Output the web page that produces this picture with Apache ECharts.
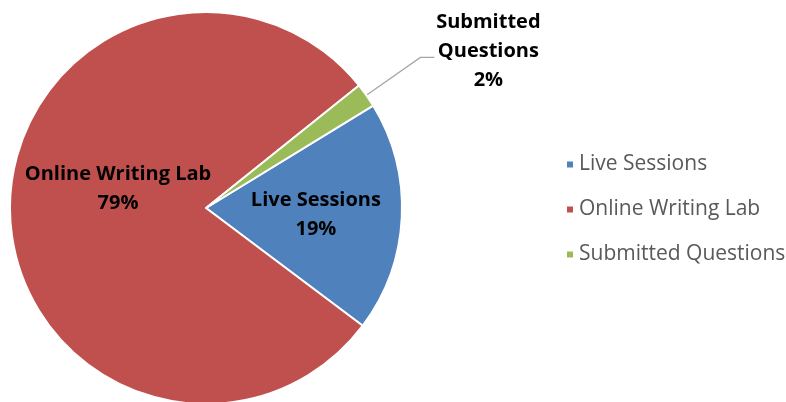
<!DOCTYPE html>
<html><head><meta charset="utf-8">
<script src="https://cdn.jsdelivr.net/npm/echarts@6/dist/echarts.min.js"></script>
<style>html,body{margin:0;padding:0;background:#fff}#c{width:786px;height:402px}</style>
</head><body><div id="c"></div>
<script>
const categories = ['Live Sessions', 'Online Writing Lab', 'Submitted Questions'];
const values = [19, 79, 2];
const colors = ['#4f81bd', '#c0504d', '#9bbb59'];

const FONT = '"Open Sans", Lato, sans-serif';
const chart = echarts.init(document.getElementById('c'));
const data = categories.map((name, i) => {
  const item = { name, value: values[i], itemStyle: { color: colors[i] } };
  if (i === 0) item.label = { offset: [9, 2] };
  if (i === 1) item.label = { offset: [13, -21] };
  if (i === 2) {
    item.label = {
      position: 'outside',
      formatter: p => '{a|' + p.name.replace(' ', '}\n{a|') + '}\n{a|' + Math.round(p.percent) + '%}',
      padding: [0, 0, 12, 0],
      distanceToLabelLine: 0,
      rich: { a: { width: 108, align: 'center', fontSize: 20, fontWeight: 'bold', color: '#000', fontFamily: FONT, lineHeight: 29 } }
    };
    item.labelLine = { show: true, length: 66, length2: 14, lineStyle: { color: '#a6a6a6', width: 1.3 } };
  }
  return item;
});

chart.setOption({
  animation: false,
  legend: {
    orient: 'vertical',
    left: 560,
    top: 149,
    itemWidth: 8,
    itemHeight: 8,
    itemGap: 24,
    icon: 'rect',
    data: categories,
    textStyle: { fontSize: 21, color: '#595959', fontFamily: FONT }
  },
  series: [{
    type: 'pie',
    center: [206, 208],
    radius: [0, 196],
    startAngle: 31.5,
    clockwise: true,
    avoidLabelOverlap: false,
    itemStyle: { borderColor: '#fff', borderWidth: 2 },
    label: {
      show: true,
      position: 'inside',
      formatter: p => p.name + '\n' + Math.round(p.percent) + '%',
      fontSize: 20,
      fontWeight: 'bold',
      color: '#000',
      fontFamily: FONT,
      lineHeight: 29,
      align: 'center'
    },
    labelLine: { show: false },
    emphasis: { disabled: true },
    data: data
  }]
});
</script></body></html>
